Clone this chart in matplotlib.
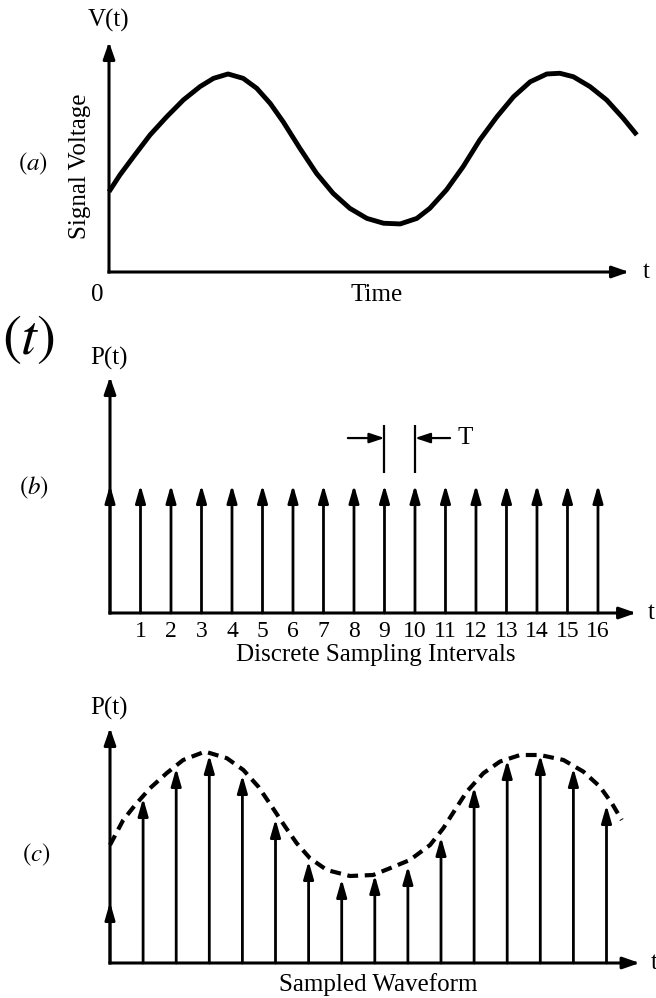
import matplotlib
matplotlib.use('Agg')
import matplotlib.pyplot as plt

plt.rcParams['font.family'] = ['Liberation Serif', 'DejaVu Serif']
plt.rcParams['mathtext.fontset'] = 'stix'

W, H = 656, 998

# ---------------- data ----------------
# (a) continuous signal V(t)
signal_time = [0.0, 0.21, 0.47, 0.79, 1.11, 1.43, 1.75, 2.01, 2.29, 2.58, 2.84, 3.10,
               3.35, 3.67, 3.99, 4.31, 4.63, 4.96, 5.28, 5.60, 5.92, 6.17, 6.49, 6.81,
               7.13, 7.46, 7.78, 8.10, 8.42, 8.67, 8.93, 9.25, 9.57, 9.89, 10.15]
signal_voltage = [3.49, 4.22, 5.01, 5.96, 6.75, 7.48, 8.06, 8.42, 8.61, 8.42, 7.99, 7.33,
                  6.53, 5.38, 4.29, 3.42, 2.77, 2.33, 2.12, 2.09, 2.33, 2.77, 3.57, 4.58,
                  5.74, 6.75, 7.62, 8.27, 8.61, 8.64, 8.49, 8.06, 7.48, 6.68, 5.96]

# (b) sampling pulse train P(t)
pulse_index = list(range(1, 17))
pulse_height = [1.0] * 16
interval_labels = [str(i) for i in pulse_index]
origin_pulse = 1.0

# (c) sampled waveform
sample_index = list(range(1, 16))
sample_value = [8.25, 9.75, 10.4, 9.4, 7.2, 5.1, 4.2, 4.4, 4.85, 6.3, 8.8, 10.15, 10.4, 9.75, 7.9]
origin_sample = 3.05
envelope_index = [0.0, 0.40, 0.76, 1.21, 1.71, 2.21, 2.87, 3.53, 4.03, 4.48, 4.89, 5.29,
                  5.64, 6.04, 6.55, 7.25, 7.95, 8.46, 9.06, 9.67, 10.07, 10.42, 10.78,
                  11.28, 11.78, 12.39, 12.99, 13.70, 14.30, 14.80, 15.16, 15.46]
envelope_value = [5.9, 7.15, 7.90, 8.74, 9.49, 10.15, 10.57, 10.24, 9.65, 8.82, 7.82, 6.82,
                  5.99, 5.24, 4.65, 4.35, 4.40, 4.74, 5.15, 5.90, 6.74, 7.65, 8.57,
                  9.49, 10.07, 10.40, 10.40, 10.15, 9.57, 8.82, 7.99, 7.15]

# ---------------- figure ----------------
fig = plt.figure(figsize=(W / 100, H / 100), dpi=100)
fig.patch.set_facecolor('white')


def px_axes(left, right, top, bottom):
    ax = fig.add_axes([left / W, 1 - bottom / H, (right - left) / W, (bottom - top) / H])
    ax.patch.set_visible(False)
    for sp in ax.spines.values():
        sp.set_visible(False)
    ax.set_xticks([])
    ax.set_yticks([])
    return ax


def ftext(x, y, s, **kw):
    kw.setdefault('ha', 'center')
    kw.setdefault('va', 'center')
    fig.text(x / W, 1 - y / H, s, **kw)


axis_arrow = dict(arrowstyle='-|>,head_length=1.0,head_width=0.35', mutation_scale=10,
                  lw=2.2, color='black', shrinkA=0, shrinkB=0, capstyle='projecting')
stem_arrow = dict(arrowstyle='-|>,head_length=1.05,head_width=0.3', mutation_scale=10,
                  lw=2.0, color='black', shrinkA=0, shrinkB=0)
mark_arrow = dict(arrowstyle='-|>,head_length=0.9,head_width=0.3', mutation_scale=10,
                  lw=1.6, color='black', shrinkA=0, shrinkB=0)


def draw_axes_arrows(ax, xmax, ymax):
    ax.annotate('', xy=(xmax, 0), xytext=(0, 0), arrowprops=axis_arrow, annotation_clip=False)
    ax.annotate('', xy=(0, ymax), xytext=(0, 0), arrowprops=axis_arrow, annotation_clip=False)


# ---- panel (a) ----
ax_a = px_axes(109, 629, 42, 272)
ax_a.set_xlim(0, 10)
ax_a.set_ylim(0, 10)
draw_axes_arrows(ax_a, 10, 10)
ax_a.plot(signal_time, signal_voltage, color='black', lw=3.5, clip_on=False,
          solid_capstyle='butt', solid_joinstyle='round')

ftext(109, 20, 'V(t)', fontsize=18)
ftext(646, 272, 't', fontsize=18)
ftext(97, 295, '0', fontsize=18)
ftext(377, 295, 'Time', fontsize=18)
ftext(80, 166, 'Signal Voltage', fontsize=18, rotation=90)
ftext(33, 164, r'$(a)$', fontsize=18)
ftext(29, 340, r'$(t)$', fontsize=41)

# ---- panel (b) ----
ax_b = px_axes(110, 636.1, 377, 613)
ax_b.set_xlim(0, 17.25)
ax_b.set_ylim(0, 1.844)
draw_axes_arrows(ax_b, 17.25, 1.844)
ax_b.annotate('', xy=(0, origin_pulse), xytext=(0, 0), arrowprops=stem_arrow)
for k, h in zip(pulse_index, pulse_height):
    ax_b.annotate('', xy=(k, h), xytext=(k, 0), arrowprops=stem_arrow)
ax_b.set_xticks(pulse_index)
ax_b.set_xticklabels(interval_labels, fontsize=17)
ax_b.tick_params(axis='x', length=0, pad=6)

# period marker T between samples 9 and 10
ax_b.vlines([9, 10], 1.09, 1.47, color='black', lw=1.6)
ax_b.annotate('', xy=(9, 1.367), xytext=(7.8, 1.367), arrowprops=mark_arrow)
ax_b.annotate('', xy=(10, 1.367), xytext=(11.15, 1.367), arrowprops=mark_arrow)
ax_b.text(11.65, 1.367, 'T', fontsize=18, ha='center', va='center')

ftext(109, 358, 'P(t)', fontsize=18)
ftext(651, 613, 't', fontsize=18)
ftext(376, 655, 'Discrete Sampling Intervals', fontsize=18)
ftext(34, 488, r'$(b)$', fontsize=18)

# ---- panel (c) ----
ax_c = px_axes(110, 639.6, 728, 963)
ax_c.set_xlim(0, 16)
ax_c.set_ylim(0, 11.75)
draw_axes_arrows(ax_c, 16, 11.75)
ax_c.plot(envelope_index, envelope_value, color='black', lw=3.0, linestyle=(0, (2.6, 1.6)),
          clip_on=False, dash_capstyle='butt')
ax_c.annotate('', xy=(0, origin_sample), xytext=(0, 0), arrowprops=stem_arrow)
for k, v in zip(sample_index, sample_value):
    ax_c.annotate('', xy=(k, v), xytext=(k, 0), arrowprops=stem_arrow)

ftext(109, 708, 'P(t)', fontsize=18)
ftext(654, 963, 't', fontsize=18)
ftext(378, 985, 'Sampled Waveform', fontsize=18)
ftext(36, 855, r'$(c)$', fontsize=18)

fig.savefig('out.png', dpi=100, facecolor='white')
